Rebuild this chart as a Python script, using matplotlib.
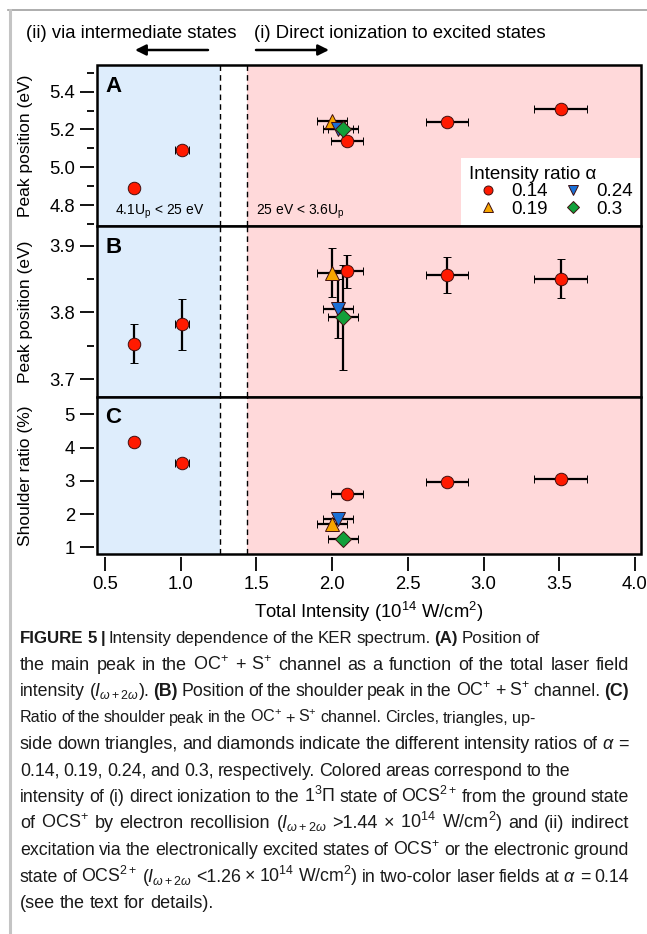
import matplotlib
matplotlib.use('Agg')
import matplotlib.pyplot as plt
from matplotlib.lines import Line2D
from matplotlib.patches import Rectangle, FancyArrowPatch
from matplotlib.ticker import MultipleLocator, FormatStrFormatter

plt.rcParams['font.family'] = ['Liberation Sans', 'DejaVu Sans']
plt.rcParams['mathtext.fontset'] = 'custom'
plt.rcParams['mathtext.rm'] = 'Liberation Sans'
plt.rcParams['mathtext.it'] = 'Liberation Sans:italic'
plt.rcParams['mathtext.bf'] = 'Liberation Sans:bold'

# ---- data (alpha = 0.14 series)
I_014 = [0.69, 1.01, 2.10, 2.76, 3.51]
dI_014 = [0.0, 0.045, 0.105, 0.14, 0.175]
peakA_014 = [4.89, 5.09, 5.14, 5.24, 5.31]
peakB_014 = [3.753, 3.782, 3.862, 3.857, 3.851]
dPeakB_014 = [0.029, 0.038, 0.025, 0.027, 0.029]
shoulder_014 = [4.16, 3.55, 2.61, 2.96, 3.06]

# ---- data (alpha = 0.19, 0.24, 0.3 single points)
alphaOthers = ['0.19', '0.24', '0.3']
I_others = [2.00, 2.04, 2.07]
dI_others = [0.10, 0.10, 0.10]
peakA_others = [5.247, 5.203, 5.20]
peakB_others = [3.860, 3.806, 3.793]
dPeakB_others = [0.037, 0.044, 0.079]
shoulder_others = [1.70, 1.86, 1.25]

ionLimitLow = 1.26
ionLimitHigh = 1.44

markers = ['o', '^', 'v', 'D']
colors = ['#ff1a00', '#f7a600', '#1a70d6', '#12a03a']
sizes = [9, 9.5, 9.5, 8.5]

W, H = 647, 934
fig = plt.figure(figsize=(W / 100, H / 100), dpi=100)
left, width = 97 / W, 544 / W
axA = fig.add_axes([left, 1 - 226 / H, width, 161 / H])
axB = fig.add_axes([left, 1 - 397 / H, width, 171 / H])
axC = fig.add_axes([left, 1 - 554 / H, width, 157 / H])

ebKw = dict(ls='none', mec='#401010', mew=0.7, ecolor='k', elinewidth=1.6, capsize=3, capthick=1.6)
fs = 13.3


def drawPanel(ax, y014, dy014, yOthers, dyOthers):
    ax.axvspan(0, ionLimitLow, color='#deedfc', lw=0, zorder=0)
    ax.axvspan(ionLimitHigh, 5, color='#ffd9da', lw=0, zorder=0)
    for xv in [ionLimitLow, ionLimitHigh]:
        ax.axvline(xv, color='k', lw=1, ls=(0, (4, 3)), zorder=1)
    ax.errorbar(I_014, y014, xerr=dI_014, yerr=dy014, fmt=markers[0], mfc=colors[0], ms=sizes[0], **ebKw)
    for i in range(len(I_others)):
        ax.errorbar([I_others[i]], [yOthers[i]], xerr=[dI_others[i]],
                    yerr=None if dyOthers is None else [dyOthers[i]],
                    fmt=markers[i + 1], mfc=colors[i + 1], ms=sizes[i + 1], **ebKw)
    ax.set_xlim(0.447, 4.04)
    for s in ['left', 'bottom']:
        ax.spines[s].set_position(('outward', 2))
        ax.spines[s].set_visible(False)
    for s in ['right', 'top']:
        ax.spines[s].set_visible(False)
    ax.add_patch(Rectangle((0, 0), 1, 1, transform=ax.transAxes, fill=False, lw=1.8, ec='k',
                           clip_on=False, zorder=10))
    ax.tick_params(which='major', direction='out', length=10, width=1.3, labelsize=fs, pad=4)
    ax.tick_params(which='minor', direction='out', length=5, width=1.3)
    ax.xaxis.set_major_locator(MultipleLocator(0.5))
    ax.xaxis.set_major_formatter(FormatStrFormatter('%.1f'))


drawPanel(axA, peakA_014, None, peakA_others, None)
drawPanel(axB, peakB_014, dPeakB_014, peakB_others, dPeakB_others)
drawPanel(axC, shoulder_014, None, shoulder_others, None)

axA.set_ylim(4.689, 5.541)
axA.yaxis.set_major_locator(MultipleLocator(0.2))
axA.yaxis.set_minor_locator(MultipleLocator(0.1))
axA.yaxis.set_major_formatter(FormatStrFormatter('%.1f'))
axB.set_ylim(3.673, 3.930)
axB.yaxis.set_major_locator(MultipleLocator(0.1))
axB.yaxis.set_minor_locator(MultipleLocator(0.05))
axB.yaxis.set_major_formatter(FormatStrFormatter('%.1f'))
axC.set_ylim(0.80, 5.52)
axC.yaxis.set_major_locator(MultipleLocator(1))
axC.yaxis.set_major_formatter(FormatStrFormatter('%d'))

for ax in [axA, axB]:
    ax.tick_params(axis='x', which='both', bottom=False, labelbottom=False)

axA.set_ylabel('Peak position (eV)', fontsize=12.5)
axB.set_ylabel('Peak position (eV)', fontsize=12.5)
axC.set_ylabel('Shoulder ratio (%)', fontsize=12.5)
for ax in [axA, axB, axC]:
    ax.yaxis.set_label_coords(-0.118, 0.5)
axC.set_xlabel('Total Intensity (10$^{14}$ W/cm$^{2}$)', fontsize=fs, labelpad=5)

for ax, lab, yy in [(axA, 'A', 0.932), (axB, 'B', 0.937), (axC, 'C', 0.938)]:
    ax.text(0.015, yy, lab, transform=ax.transAxes, fontsize=16, fontweight='bold', va='top', zorder=12)

axA.text(0.033, 0.087, r'4.1U$_\mathregular{p}$ < 25 eV', transform=axA.transAxes, fontsize=10, va='center')
axA.text(0.292, 0.087, r'25 eV < 3.6U$_\mathregular{p}$', transform=axA.transAxes, fontsize=10, va='center')

handles = [Line2D([], [], ls='none', marker=markers[i], mfc=colors[i], mec='#401010', mew=0.7, ms=sizes[i] * 0.72)
           for i in range(4)]
leg = axA.legend(handles, ['0.14'] + alphaOthers, ncol=2, title='Intensity ratio α', loc='lower right',
                 bbox_to_anchor=(1, 0), borderaxespad=0, frameon=True, fancybox=False, framealpha=1,
                 edgecolor='white', fontsize=13.5, title_fontsize=13.5, handletextpad=0.25, columnspacing=0.3,
                 handlelength=2.0, borderpad=0.45, labelspacing=0.0, alignment='left')
leg.get_frame().set_linewidth(0)

# top annotations
fig.text(237 / W, 1 - 33 / H, '(ii) via intermediate states', fontsize=fs, va='center', ha='right')
fig.text(254 / W, 1 - 33 / H, '(i) Direct ionization to excited states', fontsize=fs, va='center')
arrowKw = dict(arrowstyle='-|>', lw=1.8, color='k', mutation_scale=16, shrinkA=0, shrinkB=0)
fig.add_artist(FancyArrowPatch((208 / W, 1 - 50 / H), (135 / W, 1 - 50 / H),
                               transform=fig.transFigure, **arrowKw))
fig.add_artist(FancyArrowPatch((256 / W, 1 - 50 / H), (329 / W, 1 - 50 / H),
                               transform=fig.transFigure, **arrowKw))

# grey frame
fig.add_artist(Line2D([8 / W, 1], [1 - 10 / H] * 2, transform=fig.transFigure, color='#a0a0a0', lw=1.2))
fig.add_artist(Line2D([10 / W] * 2, [0, 1 - 10 / H], transform=fig.transFigure, color='#c4c4c4', lw=2.2))

# caption, placed word by word so each line ends where it does in the print
capLines = [
    r'**FIGURE **5 **| Intensity dependence of the KER spectrum. **(A) Position of',
    r'the main peak in the OC$^{+}$ + S$^{+}$ channel as a function of the total laser field',
    r'intensity ($\mathit{I}_{\omega+2\omega}$). **(B) Position of the shoulder peak in the OC$^{+}$ + S$^{+}$ channel. **(C)',
    r'Ratio of the shoulder peak in the OC$^{+}$ + S$^{+}$ channel. Circles, triangles, up-',
    r'side down triangles, and diamonds indicate the different intensity ratios of $\alpha$ =',
    r'0.14, 0.19, 0.24, and 0.3, respectively. Colored areas correspond to the',
    r'intensity of (i) direct ionization to the 1$^{3}\Pi$ state of OCS$^{2+}$ from the ground state',
    r'of OCS$^{+}$ by electron recollision ($\mathit{I}_{\omega+2\omega}$ >1.44 × 10$^{14}$ W/cm$^{2}$) and (ii) indirect',
    r'excitation via the electronically excited states of OCS$^{+}$ or the electronic ground',
    r'state of OCS$^{2+}$ ($\mathit{I}_{\omega+2\omega}$ <1.26 × 10$^{14}$ W/cm$^{2}$) in two-color laser fields at $\alpha$ = 0.14',
    r'(see the text for details).',
]
capEnds = [540, 629, 629, 535, 629, 570, 629, 629, 629, 629, None]
capSize = 13
capX0 = 20
capY0, capStep = 643, 26.5


def splitWords(line):
    words, cur, inMath = [], '', False
    for ch in line:
        if ch == '$':
            inMath = not inMath
        if ch == ' ' and not inMath:
            if cur:
                words.append(cur)
            cur = ''
        else:
            cur += ch
    if cur:
        words.append(cur)
    return words


renderer = fig.canvas.get_renderer()
for i, line in enumerate(capLines):
    y = 1 - (capY0 + i * capStep) / H
    size = capSize
    while True:
        texts = []
        for w in splitWords(line):
            bold = w.startswith('**')
            texts.append(fig.text(0, y, w.lstrip('*'), fontsize=size,
                                  fontweight='bold' if bold else 'normal', va='baseline', color='#1a1a1a'))
        widths = [t.get_window_extent(renderer).width for t in texts]
        natGap = 0.278 * size * 100 / 72
        if capEnds[i] is None:
            gap = natGap
            break
        gap = (capEnds[i] - capX0 - sum(widths)) / (len(texts) - 1)
        if gap >= 0.75 * natGap or size < 9:
            break
        for t in texts:
            t.remove()
        size -= 0.2
    x = capX0
    for t, w in zip(texts, widths):
        t.set_x(x / W)
        x += w + gap

fig.savefig('out.png', dpi=100)
